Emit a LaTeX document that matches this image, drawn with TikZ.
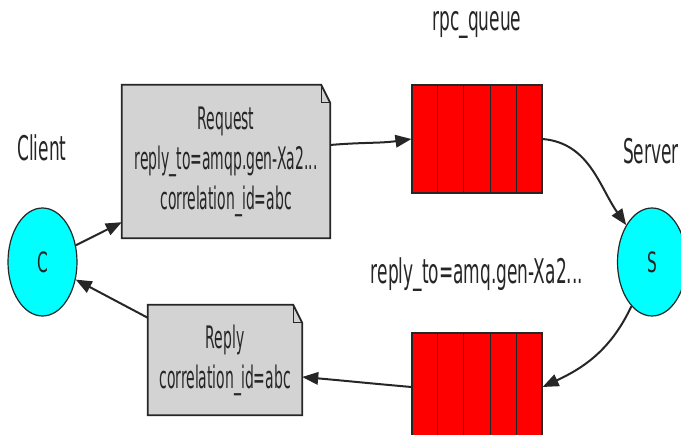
\documentclass[tikz,border=0pt]{standalone}
\usepackage{fontspec}
\newfontfamily\boxfont[FakeStretch=0.45]{DejaVu Sans}
\newfontfamily\labfont[FakeStretch=0.5]{DejaVu Sans}
\newfontfamily\circfont[FakeStretch=0.55]{DejaVu Sans}
\usetikzlibrary{arrows.meta,shapes.geometric,calc,backgrounds}
\definecolor{boxgray}{HTML}{D3D3D3}
\definecolor{qred}{HTML}{FF0000}
\definecolor{ccyan}{HTML}{00FFFF}
\begin{document}
\begin{tikzpicture}[x=1pt,y=1pt,
  notebox/.style={rectangle, inner sep=0pt, align=center, font=\boxfont\fontsize{31}{40}\selectfont, text=black!85},
  queue/.style={rectangle, draw=black!85, line width=1.2pt, fill=qred, minimum width=130pt, minimum height=108pt, inner sep=0pt},
  proc/.style={ellipse, draw=black!85, line width=1.2pt, fill=ccyan, minimum width=69pt, minimum height=108pt, inner sep=0pt, font=\circfont\fontsize{28}{34}\selectfont, text=black!85},
  lab/.style={inner sep=0pt, font=\labfont\fontsize{34}{40}\selectfont, text=black!85},
  flow/.style={draw=black!85, line width=2pt, -{Triangle[length=16pt,width=12.5pt]}},
  notefill/.style={fill=boxgray, draw=black!85, line width=1.8pt, line join=miter},
  notefold/.style={draw=black!85, line width=1pt},
  cell/.style={draw=black!85, line width=1pt}
  ]
\useasboundingbox (0,0) rectangle (681,-435);
\clip (0,0) rectangle (681,-435);

% nodes
\node[notebox, minimum width=208pt, minimum height=153pt] (req) at (226,-161.5) {Request\\reply\_to=amqp.gen-Xa2...\\correlation\_id=abc};
\node[notebox, minimum width=154pt, minimum height=110pt] (rep) at (225,-360) {Reply\\correlation\_id=abc};
\node[queue] (q1) at (477,-139) {};
\node[queue] (q2) at (477,-387) {};
\node[proc] (C) at (42.5,-262) {C};
\node[proc] (S) at (652,-262) {S};
\node[lab] (lclient) at (42,-148) {Client};
\node[lab] (lserver) at (651,-151) {Server};
\node[lab] (lrpc) at (477,-25) {rpc\_queue};
\node[lab] (lreply) at (477,-275) {reply\_to=amq.gen-Xa2...};

% note shapes behind the texts
\begin{scope}[on background layer]
\foreach \n in {req,rep} {
  \path[notefill] (\n.north west) -- ([xshift=-9pt]\n.north east) -- ([yshift=-18pt]\n.north east) -- (\n.south east) -- (\n.south west) -- cycle;
  \draw[notefold] ([xshift=-9pt]\n.north east) -- ([xshift=-9pt,yshift=-18pt]\n.north east) -- ([yshift=-18pt]\n.north east);
}
\end{scope}

% queue cells
\foreach \q in {q1,q2} {
  \foreach \i in {1,2,3,4} {
    \draw[cell] ($(\q.north west)!\i/5!(\q.north east)$) -- ($(\q.south west)!\i/5!(\q.south east)$);
  }
}

% connectors
\draw[flow] (C) -- ([yshift=16pt]req.south west);
\draw[flow] ([yshift=16.5pt]req.east) to[out=5,in=188] (q1.west);
\draw[flow] (q1.east) to[out=-5,in=125] (S);
\draw[flow] (S) to[out=-115,in=25] (q2.east);
\draw[flow] (q2.west) to[out=175,in=-5] ([yshift=-17pt]rep.east);
\draw[flow] ([yshift=-13pt]rep.north west) -- (C);
\end{tikzpicture}
\end{document}
